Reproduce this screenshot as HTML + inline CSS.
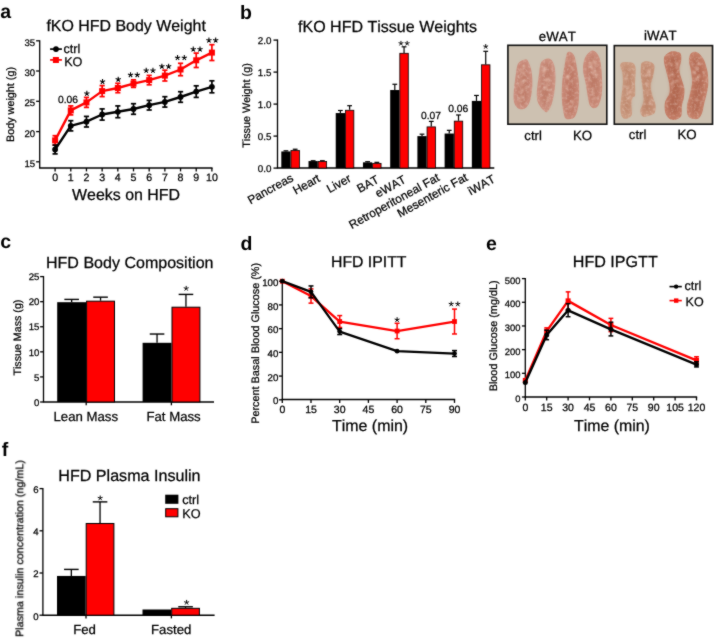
<!DOCTYPE html>
<html><head><meta charset="utf-8"><style>
html,body{margin:0;padding:0;background:#fff;}
svg{display:block;will-change:transform;}
text{font-family:"Liberation Sans", sans-serif;font-kerning:none;text-rendering:geometricPrecision;stroke:#000;stroke-width:0.25px;}
</style></head><body>
<svg width="714" height="638" viewBox="0 0 714 638">
<defs><filter id="soft" x="0" y="0" width="714" height="638" filterUnits="userSpaceOnUse" color-interpolation-filters="sRGB"><feConvolveMatrix order="3" kernelMatrix="1 2 1 2 20 2 1 2 1" edgeMode="duplicate"/></filter><filter id="blur" x="-20%" y="-20%" width="140%" height="140%"><feGaussianBlur stdDeviation="0.7"/></filter><filter id="blur2" x="-20%" y="-20%" width="140%" height="140%"><feGaussianBlur stdDeviation="2.0"/></filter><filter id="grain" x="0" y="0" width="1" height="1"><feTurbulence type="fractalNoise" baseFrequency="0.35" numOctaves="2" seed="3"/><feColorMatrix type="matrix" values="0 0 0 0 1  0 0 0 0 0.95  0 0 0 0 0.9  1.2 0 0 0 -0.55"/><feComponentTransfer><feFuncA type="linear" slope="1" intercept="0"/></feComponentTransfer></filter><filter id="blur3" x="-20%" y="-20%" width="140%" height="140%"><feGaussianBlur stdDeviation="0.9"/></filter></defs>
<g filter="url(#soft)">
<rect width="714" height="638" fill="#fff"/>
<text x="0.20" y="18.20" font-size="19.5" text-anchor="start" font-weight="bold" style="stroke-width:0" fill="#000">a</text>
<text x="46.40" y="31.40" font-size="15.95" text-anchor="start" fill="#000">fKO HFD Body Weight</text>
<line x1="39.70" y1="40.15" x2="39.70" y2="168.00" stroke="#000" stroke-width="1.3" stroke-linecap="butt"/>
<line x1="36.10" y1="40.80" x2="39.70" y2="40.80" stroke="#000" stroke-width="1.3" stroke-linecap="butt"/>
<text x="35.20" y="45.70" font-size="9.6" text-anchor="end" fill="#000">35</text>
<line x1="36.10" y1="71.00" x2="39.70" y2="71.00" stroke="#000" stroke-width="1.3" stroke-linecap="butt"/>
<text x="35.20" y="75.90" font-size="9.6" text-anchor="end" fill="#000">30</text>
<line x1="36.10" y1="101.30" x2="39.70" y2="101.30" stroke="#000" stroke-width="1.3" stroke-linecap="butt"/>
<text x="35.20" y="106.20" font-size="9.6" text-anchor="end" fill="#000">25</text>
<line x1="36.10" y1="131.60" x2="39.70" y2="131.60" stroke="#000" stroke-width="1.3" stroke-linecap="butt"/>
<text x="35.20" y="136.50" font-size="9.6" text-anchor="end" fill="#000">20</text>
<line x1="36.10" y1="161.80" x2="39.70" y2="161.80" stroke="#000" stroke-width="1.3" stroke-linecap="butt"/>
<text x="35.20" y="166.70" font-size="9.6" text-anchor="end" fill="#000">15</text>
<line x1="39.05" y1="168.00" x2="212.55" y2="168.00" stroke="#000" stroke-width="1.3" stroke-linecap="butt"/>
<line x1="55.10" y1="168.00" x2="55.10" y2="171.40" stroke="#000" stroke-width="1.3" stroke-linecap="butt"/>
<text x="55.10" y="181.40" font-size="10.6" text-anchor="middle" fill="#000">0</text>
<line x1="70.78" y1="168.00" x2="70.78" y2="171.40" stroke="#000" stroke-width="1.3" stroke-linecap="butt"/>
<text x="70.78" y="181.40" font-size="10.6" text-anchor="middle" fill="#000">1</text>
<line x1="86.46" y1="168.00" x2="86.46" y2="171.40" stroke="#000" stroke-width="1.3" stroke-linecap="butt"/>
<text x="86.46" y="181.40" font-size="10.6" text-anchor="middle" fill="#000">2</text>
<line x1="102.14" y1="168.00" x2="102.14" y2="171.40" stroke="#000" stroke-width="1.3" stroke-linecap="butt"/>
<text x="102.14" y="181.40" font-size="10.6" text-anchor="middle" fill="#000">3</text>
<line x1="117.82" y1="168.00" x2="117.82" y2="171.40" stroke="#000" stroke-width="1.3" stroke-linecap="butt"/>
<text x="117.82" y="181.40" font-size="10.6" text-anchor="middle" fill="#000">4</text>
<line x1="133.50" y1="168.00" x2="133.50" y2="171.40" stroke="#000" stroke-width="1.3" stroke-linecap="butt"/>
<text x="133.50" y="181.40" font-size="10.6" text-anchor="middle" fill="#000">5</text>
<line x1="149.18" y1="168.00" x2="149.18" y2="171.40" stroke="#000" stroke-width="1.3" stroke-linecap="butt"/>
<text x="149.18" y="181.40" font-size="10.6" text-anchor="middle" fill="#000">6</text>
<line x1="164.86" y1="168.00" x2="164.86" y2="171.40" stroke="#000" stroke-width="1.3" stroke-linecap="butt"/>
<text x="164.86" y="181.40" font-size="10.6" text-anchor="middle" fill="#000">7</text>
<line x1="180.54" y1="168.00" x2="180.54" y2="171.40" stroke="#000" stroke-width="1.3" stroke-linecap="butt"/>
<text x="180.54" y="181.40" font-size="10.6" text-anchor="middle" fill="#000">8</text>
<line x1="196.22" y1="168.00" x2="196.22" y2="171.40" stroke="#000" stroke-width="1.3" stroke-linecap="butt"/>
<text x="196.22" y="181.40" font-size="10.6" text-anchor="middle" fill="#000">9</text>
<line x1="211.90" y1="168.00" x2="211.90" y2="171.40" stroke="#000" stroke-width="1.3" stroke-linecap="butt"/>
<text x="211.90" y="181.40" font-size="10.6" text-anchor="middle" fill="#000">10</text>
<text x="72.00" y="199.60" font-size="15.95" text-anchor="start" fill="#000">Weeks on HFD</text>
<text x="14.30" y="142.00" font-size="10.8" text-anchor="start" fill="#000" transform="rotate(-90 14.3 142.0)">Body weight (g)</text>
<line x1="55.10" y1="135.70" x2="55.10" y2="145.10" stroke="#ff0000" stroke-width="1.7" stroke-linecap="butt"/>
<line x1="52.50" y1="135.70" x2="57.70" y2="135.70" stroke="#ff0000" stroke-width="1.7" stroke-linecap="butt"/>
<line x1="52.50" y1="145.10" x2="57.70" y2="145.10" stroke="#ff0000" stroke-width="1.7" stroke-linecap="butt"/>
<line x1="70.78" y1="105.90" x2="70.78" y2="114.90" stroke="#ff0000" stroke-width="1.7" stroke-linecap="butt"/>
<line x1="68.18" y1="105.90" x2="73.38" y2="105.90" stroke="#ff0000" stroke-width="1.7" stroke-linecap="butt"/>
<line x1="68.18" y1="114.90" x2="73.38" y2="114.90" stroke="#ff0000" stroke-width="1.7" stroke-linecap="butt"/>
<line x1="86.46" y1="97.40" x2="86.46" y2="107.40" stroke="#ff0000" stroke-width="1.7" stroke-linecap="butt"/>
<line x1="83.86" y1="97.40" x2="89.06" y2="97.40" stroke="#ff0000" stroke-width="1.7" stroke-linecap="butt"/>
<line x1="83.86" y1="107.40" x2="89.06" y2="107.40" stroke="#ff0000" stroke-width="1.7" stroke-linecap="butt"/>
<line x1="102.14" y1="85.60" x2="102.14" y2="96.60" stroke="#ff0000" stroke-width="1.7" stroke-linecap="butt"/>
<line x1="99.54" y1="85.60" x2="104.74" y2="85.60" stroke="#ff0000" stroke-width="1.7" stroke-linecap="butt"/>
<line x1="99.54" y1="96.60" x2="104.74" y2="96.60" stroke="#ff0000" stroke-width="1.7" stroke-linecap="butt"/>
<line x1="117.82" y1="83.30" x2="117.82" y2="92.70" stroke="#ff0000" stroke-width="1.7" stroke-linecap="butt"/>
<line x1="115.22" y1="83.30" x2="120.42" y2="83.30" stroke="#ff0000" stroke-width="1.7" stroke-linecap="butt"/>
<line x1="115.22" y1="92.70" x2="120.42" y2="92.70" stroke="#ff0000" stroke-width="1.7" stroke-linecap="butt"/>
<line x1="133.50" y1="79.80" x2="133.50" y2="87.40" stroke="#ff0000" stroke-width="1.7" stroke-linecap="butt"/>
<line x1="130.90" y1="79.80" x2="136.10" y2="79.80" stroke="#ff0000" stroke-width="1.7" stroke-linecap="butt"/>
<line x1="130.90" y1="87.40" x2="136.10" y2="87.40" stroke="#ff0000" stroke-width="1.7" stroke-linecap="butt"/>
<line x1="149.18" y1="75.40" x2="149.18" y2="84.80" stroke="#ff0000" stroke-width="1.7" stroke-linecap="butt"/>
<line x1="146.58" y1="75.40" x2="151.78" y2="75.40" stroke="#ff0000" stroke-width="1.7" stroke-linecap="butt"/>
<line x1="146.58" y1="84.80" x2="151.78" y2="84.80" stroke="#ff0000" stroke-width="1.7" stroke-linecap="butt"/>
<line x1="164.86" y1="70.20" x2="164.86" y2="81.00" stroke="#ff0000" stroke-width="1.7" stroke-linecap="butt"/>
<line x1="162.26" y1="70.20" x2="167.46" y2="70.20" stroke="#ff0000" stroke-width="1.7" stroke-linecap="butt"/>
<line x1="162.26" y1="81.00" x2="167.46" y2="81.00" stroke="#ff0000" stroke-width="1.7" stroke-linecap="butt"/>
<line x1="180.54" y1="63.30" x2="180.54" y2="75.70" stroke="#ff0000" stroke-width="1.7" stroke-linecap="butt"/>
<line x1="177.94" y1="63.30" x2="183.14" y2="63.30" stroke="#ff0000" stroke-width="1.7" stroke-linecap="butt"/>
<line x1="177.94" y1="75.70" x2="183.14" y2="75.70" stroke="#ff0000" stroke-width="1.7" stroke-linecap="butt"/>
<line x1="196.22" y1="53.10" x2="196.22" y2="67.50" stroke="#ff0000" stroke-width="1.7" stroke-linecap="butt"/>
<line x1="193.62" y1="53.10" x2="198.82" y2="53.10" stroke="#ff0000" stroke-width="1.7" stroke-linecap="butt"/>
<line x1="193.62" y1="67.50" x2="198.82" y2="67.50" stroke="#ff0000" stroke-width="1.7" stroke-linecap="butt"/>
<line x1="211.90" y1="44.70" x2="211.90" y2="60.50" stroke="#ff0000" stroke-width="1.7" stroke-linecap="butt"/>
<line x1="209.30" y1="44.70" x2="214.50" y2="44.70" stroke="#ff0000" stroke-width="1.7" stroke-linecap="butt"/>
<line x1="209.30" y1="60.50" x2="214.50" y2="60.50" stroke="#ff0000" stroke-width="1.7" stroke-linecap="butt"/>
<polyline points="55.10,140.40 70.78,110.40 86.46,102.40 102.14,91.10 117.82,88.00 133.50,83.60 149.18,80.10 164.86,75.60 180.54,69.50 196.22,60.30 211.90,52.60" fill="none" stroke="#ff0000" stroke-width="2.4" stroke-linejoin="round"/>
<rect x="52.10" y="137.40" width="6.00" height="6.00" fill="#ff0000"/>
<rect x="67.78" y="107.40" width="6.00" height="6.00" fill="#ff0000"/>
<rect x="83.46" y="99.40" width="6.00" height="6.00" fill="#ff0000"/>
<rect x="99.14" y="88.10" width="6.00" height="6.00" fill="#ff0000"/>
<rect x="114.82" y="85.00" width="6.00" height="6.00" fill="#ff0000"/>
<rect x="130.50" y="80.60" width="6.00" height="6.00" fill="#ff0000"/>
<rect x="146.18" y="77.10" width="6.00" height="6.00" fill="#ff0000"/>
<rect x="161.86" y="72.60" width="6.00" height="6.00" fill="#ff0000"/>
<rect x="177.54" y="66.50" width="6.00" height="6.00" fill="#ff0000"/>
<rect x="193.22" y="57.30" width="6.00" height="6.00" fill="#ff0000"/>
<rect x="208.90" y="49.60" width="6.00" height="6.00" fill="#ff0000"/>
<line x1="55.10" y1="145.10" x2="55.10" y2="153.90" stroke="#000" stroke-width="1.7" stroke-linecap="butt"/>
<line x1="52.50" y1="145.10" x2="57.70" y2="145.10" stroke="#000" stroke-width="1.7" stroke-linecap="butt"/>
<line x1="52.50" y1="153.90" x2="57.70" y2="153.90" stroke="#000" stroke-width="1.7" stroke-linecap="butt"/>
<line x1="70.78" y1="120.70" x2="70.78" y2="130.90" stroke="#000" stroke-width="1.7" stroke-linecap="butt"/>
<line x1="68.18" y1="120.70" x2="73.38" y2="120.70" stroke="#000" stroke-width="1.7" stroke-linecap="butt"/>
<line x1="68.18" y1="130.90" x2="73.38" y2="130.90" stroke="#000" stroke-width="1.7" stroke-linecap="butt"/>
<line x1="86.46" y1="116.40" x2="86.46" y2="127.00" stroke="#000" stroke-width="1.7" stroke-linecap="butt"/>
<line x1="83.86" y1="116.40" x2="89.06" y2="116.40" stroke="#000" stroke-width="1.7" stroke-linecap="butt"/>
<line x1="83.86" y1="127.00" x2="89.06" y2="127.00" stroke="#000" stroke-width="1.7" stroke-linecap="butt"/>
<line x1="102.14" y1="108.90" x2="102.14" y2="120.10" stroke="#000" stroke-width="1.7" stroke-linecap="butt"/>
<line x1="99.54" y1="108.90" x2="104.74" y2="108.90" stroke="#000" stroke-width="1.7" stroke-linecap="butt"/>
<line x1="99.54" y1="120.10" x2="104.74" y2="120.10" stroke="#000" stroke-width="1.7" stroke-linecap="butt"/>
<line x1="117.82" y1="105.90" x2="117.82" y2="117.70" stroke="#000" stroke-width="1.7" stroke-linecap="butt"/>
<line x1="115.22" y1="105.90" x2="120.42" y2="105.90" stroke="#000" stroke-width="1.7" stroke-linecap="butt"/>
<line x1="115.22" y1="117.70" x2="120.42" y2="117.70" stroke="#000" stroke-width="1.7" stroke-linecap="butt"/>
<line x1="133.50" y1="103.70" x2="133.50" y2="114.30" stroke="#000" stroke-width="1.7" stroke-linecap="butt"/>
<line x1="130.90" y1="103.70" x2="136.10" y2="103.70" stroke="#000" stroke-width="1.7" stroke-linecap="butt"/>
<line x1="130.90" y1="114.30" x2="136.10" y2="114.30" stroke="#000" stroke-width="1.7" stroke-linecap="butt"/>
<line x1="149.18" y1="100.40" x2="149.18" y2="110.00" stroke="#000" stroke-width="1.7" stroke-linecap="butt"/>
<line x1="146.58" y1="100.40" x2="151.78" y2="100.40" stroke="#000" stroke-width="1.7" stroke-linecap="butt"/>
<line x1="146.58" y1="110.00" x2="151.78" y2="110.00" stroke="#000" stroke-width="1.7" stroke-linecap="butt"/>
<line x1="164.86" y1="96.70" x2="164.86" y2="107.10" stroke="#000" stroke-width="1.7" stroke-linecap="butt"/>
<line x1="162.26" y1="96.70" x2="167.46" y2="96.70" stroke="#000" stroke-width="1.7" stroke-linecap="butt"/>
<line x1="162.26" y1="107.10" x2="167.46" y2="107.10" stroke="#000" stroke-width="1.7" stroke-linecap="butt"/>
<line x1="180.54" y1="91.70" x2="180.54" y2="102.30" stroke="#000" stroke-width="1.7" stroke-linecap="butt"/>
<line x1="177.94" y1="91.70" x2="183.14" y2="91.70" stroke="#000" stroke-width="1.7" stroke-linecap="butt"/>
<line x1="177.94" y1="102.30" x2="183.14" y2="102.30" stroke="#000" stroke-width="1.7" stroke-linecap="butt"/>
<line x1="196.22" y1="85.80" x2="196.22" y2="97.40" stroke="#000" stroke-width="1.7" stroke-linecap="butt"/>
<line x1="193.62" y1="85.80" x2="198.82" y2="85.80" stroke="#000" stroke-width="1.7" stroke-linecap="butt"/>
<line x1="193.62" y1="97.40" x2="198.82" y2="97.40" stroke="#000" stroke-width="1.7" stroke-linecap="butt"/>
<line x1="211.90" y1="80.80" x2="211.90" y2="92.80" stroke="#000" stroke-width="1.7" stroke-linecap="butt"/>
<line x1="209.30" y1="80.80" x2="214.50" y2="80.80" stroke="#000" stroke-width="1.7" stroke-linecap="butt"/>
<line x1="209.30" y1="92.80" x2="214.50" y2="92.80" stroke="#000" stroke-width="1.7" stroke-linecap="butt"/>
<polyline points="55.10,149.50 70.78,125.80 86.46,121.70 102.14,114.50 117.82,111.80 133.50,109.00 149.18,105.20 164.86,101.90 180.54,97.00 196.22,91.60 211.90,86.80" fill="none" stroke="#000" stroke-width="2.4" stroke-linejoin="round"/>
<circle cx="55.10" cy="149.50" r="2.9" fill="#000"/>
<circle cx="70.78" cy="125.80" r="2.9" fill="#000"/>
<circle cx="86.46" cy="121.70" r="2.9" fill="#000"/>
<circle cx="102.14" cy="114.50" r="2.9" fill="#000"/>
<circle cx="117.82" cy="111.80" r="2.9" fill="#000"/>
<circle cx="133.50" cy="109.00" r="2.9" fill="#000"/>
<circle cx="149.18" cy="105.20" r="2.9" fill="#000"/>
<circle cx="164.86" cy="101.90" r="2.9" fill="#000"/>
<circle cx="180.54" cy="97.00" r="2.9" fill="#000"/>
<circle cx="196.22" cy="91.60" r="2.9" fill="#000"/>
<circle cx="211.90" cy="86.80" r="2.9" fill="#000"/>
<path d="M86.86,93.50L86.86,90.75M86.86,93.50L89.48,92.65M86.86,93.50L88.48,95.72M86.86,93.50L85.24,95.72M86.86,93.50L84.24,92.65" stroke="#000" stroke-width="1.05" stroke-linecap="butt" fill="none"/>
<path d="M102.54,81.70L102.54,78.95M102.54,81.70L105.16,80.85M102.54,81.70L104.16,83.92M102.54,81.70L100.92,83.92M102.54,81.70L99.92,80.85" stroke="#000" stroke-width="1.05" stroke-linecap="butt" fill="none"/>
<path d="M118.22,79.40L118.22,76.65M118.22,79.40L120.84,78.55M118.22,79.40L119.84,81.62M118.22,79.40L116.60,81.62M118.22,79.40L115.60,78.55" stroke="#000" stroke-width="1.05" stroke-linecap="butt" fill="none"/>
<path d="M130.53,74.90L130.53,72.15M130.53,74.90L133.14,74.05M130.53,74.90L132.14,77.12M130.53,74.90L128.91,77.12M130.53,74.90L127.91,74.05" stroke="#000" stroke-width="1.05" stroke-linecap="butt" fill="none"/>
<path d="M137.28,74.90L137.28,72.15M137.28,74.90L139.89,74.05M137.28,74.90L138.89,77.12M137.28,74.90L135.66,77.12M137.28,74.90L134.66,74.05" stroke="#000" stroke-width="1.05" stroke-linecap="butt" fill="none"/>
<path d="M146.21,70.50L146.21,67.75M146.21,70.50L148.82,69.65M146.21,70.50L147.82,72.72M146.21,70.50L144.59,72.72M146.21,70.50L143.59,69.65" stroke="#000" stroke-width="1.05" stroke-linecap="butt" fill="none"/>
<path d="M152.96,70.50L152.96,67.75M152.96,70.50L155.57,69.65M152.96,70.50L154.57,72.72M152.96,70.50L151.34,72.72M152.96,70.50L150.34,69.65" stroke="#000" stroke-width="1.05" stroke-linecap="butt" fill="none"/>
<path d="M161.88,66.40L161.88,63.65M161.88,66.40L164.50,65.55M161.88,66.40L163.50,68.62M161.88,66.40L160.27,68.62M161.88,66.40L159.27,65.55" stroke="#000" stroke-width="1.05" stroke-linecap="butt" fill="none"/>
<path d="M168.63,66.40L168.63,63.65M168.63,66.40L171.25,65.55M168.63,66.40L170.25,68.62M168.63,66.40L167.02,68.62M168.63,66.40L166.02,65.55" stroke="#000" stroke-width="1.05" stroke-linecap="butt" fill="none"/>
<path d="M177.56,57.80L177.56,55.05M177.56,57.80L180.18,56.95M177.56,57.80L179.18,60.02M177.56,57.80L175.95,60.02M177.56,57.80L174.95,56.95" stroke="#000" stroke-width="1.05" stroke-linecap="butt" fill="none"/>
<path d="M184.31,57.80L184.31,55.05M184.31,57.80L186.93,56.95M184.31,57.80L185.93,60.02M184.31,57.80L182.70,60.02M184.31,57.80L181.70,56.95" stroke="#000" stroke-width="1.05" stroke-linecap="butt" fill="none"/>
<path d="M193.25,49.30L193.25,46.55M193.25,49.30L195.86,48.45M193.25,49.30L194.86,51.52M193.25,49.30L191.63,51.52M193.25,49.30L190.63,48.45" stroke="#000" stroke-width="1.05" stroke-linecap="butt" fill="none"/>
<path d="M200.00,49.30L200.00,46.55M200.00,49.30L202.61,48.45M200.00,49.30L201.61,51.52M200.00,49.30L198.38,51.52M200.00,49.30L197.38,48.45" stroke="#000" stroke-width="1.05" stroke-linecap="butt" fill="none"/>
<path d="M208.93,40.30L208.93,37.55M208.93,40.30L211.54,39.45M208.93,40.30L210.54,42.52M208.93,40.30L207.31,42.52M208.93,40.30L206.31,39.45" stroke="#000" stroke-width="1.05" stroke-linecap="butt" fill="none"/>
<path d="M215.68,40.30L215.68,37.55M215.68,40.30L218.29,39.45M215.68,40.30L217.29,42.52M215.68,40.30L214.06,42.52M215.68,40.30L213.06,39.45" stroke="#000" stroke-width="1.05" stroke-linecap="butt" fill="none"/>
<text x="68.00" y="102.90" font-size="10.3" text-anchor="middle" fill="#000">0.06</text>
<line x1="50.10" y1="49.10" x2="61.90" y2="49.10" stroke="#000" stroke-width="1.7" stroke-linecap="butt"/>
<circle cx="56.00" cy="49.10" r="2.9" fill="#000"/>
<text x="63.40" y="52.60" font-size="12.6" text-anchor="start" fill="#000">ctrl</text>
<line x1="50.10" y1="59.90" x2="61.90" y2="59.90" stroke="#ff0000" stroke-width="1.7" stroke-linecap="butt"/>
<rect x="52.90" y="57.00" width="6.00" height="6.00" fill="#ff0000"/>
<text x="64.20" y="65.80" font-size="12.6" text-anchor="start" fill="#000">KO</text>
<text x="240.00" y="18.90" font-size="19.5" text-anchor="start" font-weight="bold" style="stroke-width:0" fill="#000">b</text>
<text x="298.00" y="31.50" font-size="16.05" text-anchor="start" fill="#000">fKO HFD Tissue Weights</text>
<line x1="277.50" y1="39.45" x2="277.50" y2="168.10" stroke="#000" stroke-width="1.3" stroke-linecap="butt"/>
<line x1="273.50" y1="40.10" x2="277.50" y2="40.10" stroke="#000" stroke-width="1.3" stroke-linecap="butt"/>
<text x="271.40" y="43.50" font-size="9.8" text-anchor="end" fill="#000">2.0</text>
<line x1="273.50" y1="72.10" x2="277.50" y2="72.10" stroke="#000" stroke-width="1.3" stroke-linecap="butt"/>
<text x="271.40" y="75.50" font-size="9.8" text-anchor="end" fill="#000">1.5</text>
<line x1="273.50" y1="104.10" x2="277.50" y2="104.10" stroke="#000" stroke-width="1.3" stroke-linecap="butt"/>
<text x="271.40" y="107.50" font-size="9.8" text-anchor="end" fill="#000">1.0</text>
<line x1="273.50" y1="136.10" x2="277.50" y2="136.10" stroke="#000" stroke-width="1.3" stroke-linecap="butt"/>
<text x="271.40" y="139.50" font-size="9.8" text-anchor="end" fill="#000">0.5</text>
<line x1="273.50" y1="168.10" x2="277.50" y2="168.10" stroke="#000" stroke-width="1.3" stroke-linecap="butt"/>
<text x="271.40" y="171.50" font-size="9.8" text-anchor="end" fill="#000">0.0</text>
<line x1="276.85" y1="168.10" x2="494.30" y2="168.10" stroke="#000" stroke-width="1.5" stroke-linecap="butt"/>
<text x="249.90" y="147.80" font-size="10.8" text-anchor="start" fill="#000" transform="rotate(-90 249.9 147.8)">Tissue Weight (g)</text>
<line x1="285.93" y1="151.46" x2="285.93" y2="150.82" stroke="#000" stroke-width="1.2" stroke-linecap="butt"/>
<line x1="283.53" y1="150.82" x2="288.32" y2="150.82" stroke="#000" stroke-width="1.2" stroke-linecap="butt"/>
<line x1="295.18" y1="150.18" x2="295.18" y2="149.22" stroke="#000" stroke-width="1.2" stroke-linecap="butt"/>
<line x1="292.78" y1="149.22" x2="297.57" y2="149.22" stroke="#000" stroke-width="1.2" stroke-linecap="butt"/>
<rect x="281.30" y="151.46" width="9.25" height="16.64" fill="#000"/>
<rect x="290.95" y="150.58" width="8.45" height="17.52" fill="#ff0000" stroke="#000" stroke-width="0.8"/>
<text x="294.20" y="180.30" font-size="11.85" text-anchor="end" fill="#000" transform="rotate(-29 294.2 180.3)">Pancreas</text>
<line x1="313.14" y1="161.06" x2="313.14" y2="160.74" stroke="#000" stroke-width="1.2" stroke-linecap="butt"/>
<line x1="310.75" y1="160.74" x2="315.54" y2="160.74" stroke="#000" stroke-width="1.2" stroke-linecap="butt"/>
<line x1="322.39" y1="161.06" x2="322.39" y2="160.74" stroke="#000" stroke-width="1.2" stroke-linecap="butt"/>
<line x1="320.00" y1="160.74" x2="324.79" y2="160.74" stroke="#000" stroke-width="1.2" stroke-linecap="butt"/>
<rect x="308.52" y="161.06" width="9.25" height="7.04" fill="#000"/>
<rect x="318.17" y="161.46" width="8.45" height="6.64" fill="#ff0000" stroke="#000" stroke-width="0.8"/>
<text x="321.00" y="180.80" font-size="11.85" text-anchor="end" fill="#000" transform="rotate(-29 321.0 180.8)">Heart</text>
<line x1="340.37" y1="113.06" x2="340.37" y2="110.50" stroke="#000" stroke-width="1.2" stroke-linecap="butt"/>
<line x1="337.97" y1="110.50" x2="342.76" y2="110.50" stroke="#000" stroke-width="1.2" stroke-linecap="butt"/>
<line x1="349.62" y1="109.86" x2="349.62" y2="105.70" stroke="#000" stroke-width="1.2" stroke-linecap="butt"/>
<line x1="347.22" y1="105.70" x2="352.01" y2="105.70" stroke="#000" stroke-width="1.2" stroke-linecap="butt"/>
<rect x="335.74" y="113.06" width="9.25" height="55.04" fill="#000"/>
<rect x="345.39" y="110.26" width="8.45" height="57.84" fill="#ff0000" stroke="#000" stroke-width="0.8"/>
<text x="352.00" y="180.80" font-size="11.85" text-anchor="end" fill="#000" transform="rotate(-29 352.0 180.8)">Liver</text>
<line x1="367.59" y1="162.34" x2="367.59" y2="161.70" stroke="#000" stroke-width="1.2" stroke-linecap="butt"/>
<line x1="365.19" y1="161.70" x2="369.99" y2="161.70" stroke="#000" stroke-width="1.2" stroke-linecap="butt"/>
<line x1="376.84" y1="162.98" x2="376.84" y2="162.34" stroke="#000" stroke-width="1.2" stroke-linecap="butt"/>
<line x1="374.44" y1="162.34" x2="379.24" y2="162.34" stroke="#000" stroke-width="1.2" stroke-linecap="butt"/>
<rect x="362.96" y="162.34" width="9.25" height="5.76" fill="#000"/>
<rect x="372.61" y="163.38" width="8.45" height="4.72" fill="#ff0000" stroke="#000" stroke-width="0.8"/>
<text x="379.90" y="181.90" font-size="11.85" text-anchor="end" fill="#000" transform="rotate(-29 379.9 181.9)">BAT</text>
<line x1="394.81" y1="90.02" x2="394.81" y2="84.26" stroke="#000" stroke-width="1.2" stroke-linecap="butt"/>
<line x1="392.41" y1="84.26" x2="397.20" y2="84.26" stroke="#000" stroke-width="1.2" stroke-linecap="butt"/>
<line x1="404.06" y1="52.90" x2="404.06" y2="46.82" stroke="#000" stroke-width="1.2" stroke-linecap="butt"/>
<line x1="401.66" y1="46.82" x2="406.45" y2="46.82" stroke="#000" stroke-width="1.2" stroke-linecap="butt"/>
<rect x="390.18" y="90.02" width="9.25" height="78.08" fill="#000"/>
<rect x="399.83" y="53.30" width="8.45" height="114.80" fill="#ff0000" stroke="#000" stroke-width="0.8"/>
<text x="406.90" y="181.90" font-size="11.85" text-anchor="end" fill="#000" transform="rotate(-29 406.9 181.9)">eWAT</text>
<line x1="422.02" y1="136.10" x2="422.02" y2="134.18" stroke="#000" stroke-width="1.2" stroke-linecap="butt"/>
<line x1="419.62" y1="134.18" x2="424.42" y2="134.18" stroke="#000" stroke-width="1.2" stroke-linecap="butt"/>
<line x1="431.27" y1="126.50" x2="431.27" y2="121.38" stroke="#000" stroke-width="1.2" stroke-linecap="butt"/>
<line x1="428.88" y1="121.38" x2="433.67" y2="121.38" stroke="#000" stroke-width="1.2" stroke-linecap="butt"/>
<rect x="417.40" y="136.10" width="9.25" height="32.00" fill="#000"/>
<rect x="427.05" y="126.90" width="8.45" height="41.20" fill="#ff0000" stroke="#000" stroke-width="0.8"/>
<text x="440.40" y="180.00" font-size="11.85" text-anchor="end" fill="#000" transform="rotate(-29 440.4 180.0)">Retroperitoneal Fat</text>
<line x1="449.25" y1="133.54" x2="449.25" y2="130.34" stroke="#000" stroke-width="1.2" stroke-linecap="butt"/>
<line x1="446.85" y1="130.34" x2="451.64" y2="130.34" stroke="#000" stroke-width="1.2" stroke-linecap="butt"/>
<line x1="458.50" y1="120.74" x2="458.50" y2="114.98" stroke="#000" stroke-width="1.2" stroke-linecap="butt"/>
<line x1="456.10" y1="114.98" x2="460.89" y2="114.98" stroke="#000" stroke-width="1.2" stroke-linecap="butt"/>
<rect x="444.62" y="133.54" width="9.25" height="34.56" fill="#000"/>
<rect x="454.27" y="121.14" width="8.45" height="46.96" fill="#ff0000" stroke="#000" stroke-width="0.8"/>
<text x="468.60" y="179.80" font-size="11.85" text-anchor="end" fill="#000" transform="rotate(-29 468.6 179.8)">Mesenteric Fat</text>
<line x1="476.47" y1="100.90" x2="476.47" y2="95.46" stroke="#000" stroke-width="1.2" stroke-linecap="butt"/>
<line x1="474.07" y1="95.46" x2="478.87" y2="95.46" stroke="#000" stroke-width="1.2" stroke-linecap="butt"/>
<line x1="485.72" y1="64.42" x2="485.72" y2="51.30" stroke="#000" stroke-width="1.2" stroke-linecap="butt"/>
<line x1="483.32" y1="51.30" x2="488.12" y2="51.30" stroke="#000" stroke-width="1.2" stroke-linecap="butt"/>
<rect x="471.84" y="100.90" width="9.25" height="67.20" fill="#000"/>
<rect x="481.49" y="64.82" width="8.45" height="103.28" fill="#ff0000" stroke="#000" stroke-width="0.8"/>
<text x="496.00" y="181.40" font-size="11.85" text-anchor="end" fill="#000" transform="rotate(-29 496.0 181.4)">iWAT</text>
<path d="M400.95,43.40L400.95,40.90M400.95,43.40L403.33,42.63M400.95,43.40L402.42,45.42M400.95,43.40L399.49,45.42M400.95,43.40L398.58,42.63" stroke="#000" stroke-width="0.95" stroke-linecap="butt" fill="none"/>
<path d="M407.15,43.40L407.15,40.90M407.15,43.40L409.53,42.63M407.15,43.40L408.62,45.42M407.15,43.40L405.69,45.42M407.15,43.40L404.78,42.63" stroke="#000" stroke-width="0.95" stroke-linecap="butt" fill="none"/>
<path d="M485.72,46.60L485.72,44.10M485.72,46.60L488.09,45.83M485.72,46.60L487.18,48.62M485.72,46.60L484.25,48.62M485.72,46.60L483.34,45.83" stroke="#000" stroke-width="0.95" stroke-linecap="butt" fill="none"/>
<text x="431.00" y="118.50" font-size="10.3" text-anchor="middle" fill="#000">0.07</text>
<text x="458.20" y="111.60" font-size="10.3" text-anchor="middle" fill="#000">0.06</text>
<rect x="507.90" y="45.30" width="98.90" height="78.90" fill="#cdc1b1"/>
<g filter="url(#blur)">
<path d="M525.3,59.4C527.0,59.2 527.4,59.9 528.5,62.0C529.6,64.1 531.1,68.1 531.7,72.2C532.3,76.3 532.6,81.5 532.3,86.4C532.0,91.3 530.9,98.2 529.7,101.8C528.5,105.4 527.1,107.0 525.3,108.2C523.5,109.4 520.6,109.7 518.8,108.8C517.0,107.9 515.1,105.7 514.3,103.0C513.4,100.3 513.5,97.3 513.7,92.8C513.9,88.3 514.9,81.0 515.6,76.1C516.4,71.2 516.6,66.1 518.2,63.3C519.8,60.5 523.6,59.6 525.3,59.4Z" fill="#cc9080"/>
<path d="M544.5,59.4C546.0,58.6 548.1,58.1 549.6,58.8C551.1,59.4 552.5,60.8 553.5,63.3C554.5,65.8 555.2,69.2 555.4,73.5C555.6,77.8 555.4,83.8 554.8,88.9C554.2,94.0 552.9,100.5 551.6,104.3C550.3,108.1 548.5,111.0 547.1,112.0C545.7,113.0 544.7,111.6 543.2,110.1C541.7,108.6 539.2,105.9 538.1,103.0C537.0,100.1 536.7,97.3 536.8,92.8C536.9,88.3 538.1,81.0 538.7,76.1C539.4,71.2 539.7,66.1 540.7,63.3C541.7,60.5 543.0,60.1 544.5,59.4Z" fill="#cd9382"/>
<path d="M569.5,51.7C570.4,51.6 571.1,52.1 572.0,53.0C572.9,53.9 573.7,54.0 574.6,56.8C575.5,59.6 576.5,64.8 577.2,69.7C578.0,74.6 578.9,80.6 579.1,86.4C579.3,92.2 579.1,99.4 578.5,104.3C577.9,109.2 576.7,113.4 575.3,115.9C573.9,118.4 571.7,118.7 570.1,119.1C568.5,119.5 566.7,119.5 565.6,118.5C564.5,117.5 564.3,116.7 563.7,113.3C563.1,109.9 562.0,103.5 561.8,97.9C561.6,92.4 561.9,85.8 562.4,80.0C562.9,74.2 564.2,67.7 565.0,63.3C565.8,58.9 566.1,55.5 566.9,53.6C567.6,51.7 568.6,51.8 569.5,51.7Z" fill="#ca8c7a"/>
<path d="M590.7,51.1C592.3,49.9 593.2,50.4 594.5,51.1C595.8,51.9 597.3,53.4 598.4,55.6C599.5,57.8 600.3,60.0 600.9,64.5C601.5,69.0 602.1,77.4 602.2,82.5C602.3,87.6 602.2,91.5 601.6,95.3C601.0,99.1 599.7,103.4 598.4,105.6C597.1,107.8 595.3,108.2 593.9,108.2C592.5,108.2 591.0,107.3 590.0,105.6C589.0,103.9 588.9,101.8 588.1,97.9C587.4,94.1 586.4,87.2 585.5,82.5C584.6,77.8 583.1,73.8 583.0,69.7C582.9,65.6 583.6,61.2 584.9,58.1C586.2,55.0 589.1,52.3 590.7,51.1Z" fill="#cc8f7d"/>
</g>
<g filter="url(#blur2)">
<path d="M524.4,63.2C525.4,63.0 525.7,63.6 526.3,65.4C527.0,67.2 527.9,70.6 528.2,74.1C528.6,77.6 528.8,82.0 528.6,86.2C528.4,90.4 527.7,96.2 527.0,99.3C526.3,102.4 525.5,103.7 524.4,104.7C523.3,105.7 521.6,106.0 520.5,105.2C519.4,104.5 518.3,102.6 517.8,100.3C517.3,98.0 517.3,95.4 517.4,91.6C517.6,87.8 518.1,81.6 518.6,77.4C519.0,73.2 519.2,68.9 520.1,66.5C521.1,64.2 523.4,63.4 524.4,63.2Z" fill="#bb7562" opacity="0.8"/>
<path d="M545.2,63.1C546.1,62.4 547.3,62.0 548.2,62.5C549.1,63.1 550.0,64.3 550.6,66.4C551.1,68.5 551.6,71.4 551.7,75.0C551.8,78.7 551.7,83.8 551.3,88.1C551.0,92.5 550.2,98.0 549.4,101.2C548.7,104.5 547.6,106.9 546.7,107.8C545.9,108.6 545.3,107.4 544.4,106.2C543.5,104.9 542.0,102.6 541.3,100.1C540.7,97.7 540.5,95.3 540.5,91.4C540.6,87.6 541.3,81.4 541.7,77.3C542.1,73.1 542.3,68.7 542.9,66.4C543.5,64.0 544.3,63.7 545.2,63.1Z" fill="#bc7864" opacity="0.8"/>
<path d="M569.7,56.6C570.3,56.5 570.7,57.0 571.2,57.7C571.8,58.5 572.3,58.6 572.8,61.0C573.3,63.3 573.9,67.7 574.4,71.9C574.8,76.1 575.4,81.2 575.5,86.1C575.6,91.0 575.5,97.2 575.1,101.3C574.8,105.5 574.1,109.1 573.2,111.2C572.4,113.3 571.1,113.5 570.1,113.9C569.1,114.3 568.0,114.2 567.4,113.4C566.8,112.6 566.6,111.9 566.3,109.0C565.9,106.1 565.3,100.6 565.1,95.9C565.0,91.2 565.2,85.6 565.5,80.7C565.8,75.8 566.6,70.2 567.0,66.5C567.5,62.7 567.7,59.9 568.2,58.2C568.6,56.6 569.2,56.7 569.7,56.6Z" fill="#b9715d" opacity="0.8"/>
<path d="M591.7,55.3C592.7,54.3 593.2,54.7 594.0,55.3C594.8,55.9 595.7,57.2 596.3,59.1C597.0,61.0 597.5,62.9 597.8,66.7C598.2,70.5 598.5,77.6 598.6,82.0C598.7,86.3 598.6,89.6 598.3,92.9C597.9,96.1 597.1,99.8 596.3,101.6C595.6,103.4 594.5,103.8 593.6,103.8C592.8,103.8 591.9,103.1 591.3,101.6C590.7,100.2 590.6,98.3 590.2,95.1C589.7,91.8 589.1,86.0 588.6,82.0C588.1,78.0 587.2,74.6 587.1,71.1C587.0,67.6 587.5,63.9 588.2,61.2C589.0,58.6 590.8,56.3 591.7,55.3Z" fill="#ba7460" opacity="0.8"/>
</g>
<g filter="url(#blur3)" fill="#ecc8b8">
<ellipse cx="520.6" cy="77.0" rx="1.3" ry="0.7" opacity="0.8"/>
<ellipse cx="522.1" cy="84.7" rx="0.8" ry="1.0" opacity="0.8"/>
<ellipse cx="522.6" cy="66.7" rx="0.9" ry="0.8" opacity="0.8"/>
<ellipse cx="525.3" cy="80.6" rx="0.9" ry="0.8" opacity="0.8"/>
<ellipse cx="526.2" cy="88.0" rx="1.3" ry="0.9" opacity="0.8"/>
<ellipse cx="519.9" cy="100.5" rx="1.5" ry="0.9" opacity="0.8"/>
<ellipse cx="520.4" cy="70.5" rx="1.0" ry="1.2" opacity="0.8"/>
<ellipse cx="523.6" cy="71.8" rx="1.3" ry="0.9" opacity="0.8"/>
<ellipse cx="520.0" cy="85.1" rx="0.8" ry="0.8" opacity="0.8"/>
<ellipse cx="522.5" cy="89.9" rx="1.1" ry="1.1" opacity="0.8"/>
<ellipse cx="521.6" cy="81.7" rx="1.4" ry="1.1" opacity="0.8"/>
<ellipse cx="523.6" cy="74.1" rx="1.2" ry="1.2" opacity="0.8"/>
<ellipse cx="521.6" cy="91.6" rx="1.6" ry="0.8" opacity="0.8"/>
<ellipse cx="524.8" cy="80.4" rx="0.9" ry="1.0" opacity="0.8"/>
<ellipse cx="524.2" cy="66.7" rx="1.4" ry="1.0" opacity="0.8"/>
<ellipse cx="521.7" cy="96.9" rx="1.4" ry="1.1" opacity="0.8"/>
<ellipse cx="545.9" cy="87.7" rx="1.5" ry="1.3" opacity="0.8"/>
<ellipse cx="547.3" cy="83.6" rx="0.8" ry="1.1" opacity="0.8"/>
<ellipse cx="549.6" cy="90.3" rx="1.5" ry="0.9" opacity="0.8"/>
<ellipse cx="547.3" cy="80.2" rx="0.8" ry="1.0" opacity="0.8"/>
<ellipse cx="543.5" cy="71.7" rx="0.8" ry="1.2" opacity="0.8"/>
<ellipse cx="544.4" cy="70.2" rx="1.1" ry="1.2" opacity="0.8"/>
<ellipse cx="545.8" cy="68.3" rx="1.2" ry="1.2" opacity="0.8"/>
<ellipse cx="548.7" cy="97.0" rx="1.0" ry="0.9" opacity="0.8"/>
<ellipse cx="548.9" cy="79.1" rx="1.6" ry="0.8" opacity="0.8"/>
<ellipse cx="544.3" cy="72.0" rx="1.0" ry="1.0" opacity="0.8"/>
<ellipse cx="544.5" cy="88.1" rx="0.8" ry="1.0" opacity="0.8"/>
<ellipse cx="546.6" cy="79.5" rx="1.6" ry="1.1" opacity="0.8"/>
<ellipse cx="547.0" cy="85.2" rx="1.3" ry="0.7" opacity="0.8"/>
<ellipse cx="548.1" cy="100.1" rx="1.5" ry="1.2" opacity="0.8"/>
<ellipse cx="545.5" cy="80.4" rx="0.9" ry="1.1" opacity="0.8"/>
<ellipse cx="543.1" cy="67.6" rx="1.0" ry="0.8" opacity="0.8"/>
<ellipse cx="567.0" cy="76.5" rx="0.8" ry="0.8" opacity="0.8"/>
<ellipse cx="569.2" cy="64.8" rx="0.8" ry="1.2" opacity="0.8"/>
<ellipse cx="567.7" cy="90.0" rx="1.0" ry="0.9" opacity="0.8"/>
<ellipse cx="567.5" cy="77.7" rx="1.5" ry="1.3" opacity="0.8"/>
<ellipse cx="570.0" cy="82.7" rx="0.9" ry="0.8" opacity="0.8"/>
<ellipse cx="568.5" cy="76.6" rx="1.5" ry="0.8" opacity="0.8"/>
<ellipse cx="573.3" cy="60.9" rx="1.2" ry="0.8" opacity="0.8"/>
<ellipse cx="566.8" cy="86.5" rx="1.2" ry="1.3" opacity="0.8"/>
<ellipse cx="571.5" cy="102.3" rx="1.0" ry="0.9" opacity="0.8"/>
<ellipse cx="572.0" cy="68.0" rx="1.2" ry="1.2" opacity="0.8"/>
<ellipse cx="568.2" cy="76.0" rx="1.4" ry="1.3" opacity="0.8"/>
<ellipse cx="572.3" cy="101.7" rx="1.5" ry="1.1" opacity="0.8"/>
<ellipse cx="570.2" cy="70.9" rx="1.1" ry="0.7" opacity="0.8"/>
<ellipse cx="568.6" cy="61.2" rx="1.0" ry="1.1" opacity="0.8"/>
<ellipse cx="569.8" cy="106.9" rx="1.5" ry="1.3" opacity="0.8"/>
<ellipse cx="569.2" cy="106.8" rx="1.0" ry="0.8" opacity="0.8"/>
<ellipse cx="591.2" cy="66.2" rx="1.3" ry="1.2" opacity="0.8"/>
<ellipse cx="593.1" cy="93.0" rx="1.3" ry="1.2" opacity="0.8"/>
<ellipse cx="594.4" cy="61.5" rx="1.5" ry="1.2" opacity="0.8"/>
<ellipse cx="593.1" cy="89.2" rx="0.9" ry="1.2" opacity="0.8"/>
<ellipse cx="595.3" cy="71.8" rx="1.6" ry="0.9" opacity="0.8"/>
<ellipse cx="596.4" cy="74.7" rx="1.4" ry="0.8" opacity="0.8"/>
<ellipse cx="590.8" cy="63.2" rx="1.5" ry="1.2" opacity="0.8"/>
<ellipse cx="595.5" cy="64.0" rx="1.6" ry="1.1" opacity="0.8"/>
<ellipse cx="593.6" cy="72.6" rx="0.9" ry="0.7" opacity="0.8"/>
<ellipse cx="594.3" cy="98.4" rx="1.2" ry="1.3" opacity="0.8"/>
<ellipse cx="595.8" cy="76.0" rx="1.5" ry="0.8" opacity="0.8"/>
<ellipse cx="591.8" cy="68.4" rx="1.0" ry="1.1" opacity="0.8"/>
<ellipse cx="592.7" cy="68.8" rx="0.9" ry="1.2" opacity="0.8"/>
<ellipse cx="592.9" cy="72.7" rx="1.3" ry="1.2" opacity="0.8"/>
<ellipse cx="596.2" cy="75.5" rx="1.2" ry="1.0" opacity="0.8"/>
<ellipse cx="589.9" cy="79.8" rx="1.2" ry="0.8" opacity="0.8"/>
</g>
<clipPath id="cpe1"><path d="M525.3,59.4C527.0,59.2 527.4,59.9 528.5,62.0C529.6,64.1 531.1,68.1 531.7,72.2C532.3,76.3 532.6,81.5 532.3,86.4C532.0,91.3 530.9,98.2 529.7,101.8C528.5,105.4 527.1,107.0 525.3,108.2C523.5,109.4 520.6,109.7 518.8,108.8C517.0,107.9 515.1,105.7 514.3,103.0C513.4,100.3 513.5,97.3 513.7,92.8C513.9,88.3 514.9,81.0 515.6,76.1C516.4,71.2 516.6,66.1 518.2,63.3C519.8,60.5 523.6,59.6 525.3,59.4Z"/><path d="M544.5,59.4C546.0,58.6 548.1,58.1 549.6,58.8C551.1,59.4 552.5,60.8 553.5,63.3C554.5,65.8 555.2,69.2 555.4,73.5C555.6,77.8 555.4,83.8 554.8,88.9C554.2,94.0 552.9,100.5 551.6,104.3C550.3,108.1 548.5,111.0 547.1,112.0C545.7,113.0 544.7,111.6 543.2,110.1C541.7,108.6 539.2,105.9 538.1,103.0C537.0,100.1 536.7,97.3 536.8,92.8C536.9,88.3 538.1,81.0 538.7,76.1C539.4,71.2 539.7,66.1 540.7,63.3C541.7,60.5 543.0,60.1 544.5,59.4Z"/><path d="M569.5,51.7C570.4,51.6 571.1,52.1 572.0,53.0C572.9,53.9 573.7,54.0 574.6,56.8C575.5,59.6 576.5,64.8 577.2,69.7C578.0,74.6 578.9,80.6 579.1,86.4C579.3,92.2 579.1,99.4 578.5,104.3C577.9,109.2 576.7,113.4 575.3,115.9C573.9,118.4 571.7,118.7 570.1,119.1C568.5,119.5 566.7,119.5 565.6,118.5C564.5,117.5 564.3,116.7 563.7,113.3C563.1,109.9 562.0,103.5 561.8,97.9C561.6,92.4 561.9,85.8 562.4,80.0C562.9,74.2 564.2,67.7 565.0,63.3C565.8,58.9 566.1,55.5 566.9,53.6C567.6,51.7 568.6,51.8 569.5,51.7Z"/><path d="M590.7,51.1C592.3,49.9 593.2,50.4 594.5,51.1C595.8,51.9 597.3,53.4 598.4,55.6C599.5,57.8 600.3,60.0 600.9,64.5C601.5,69.0 602.1,77.4 602.2,82.5C602.3,87.6 602.2,91.5 601.6,95.3C601.0,99.1 599.7,103.4 598.4,105.6C597.1,107.8 595.3,108.2 593.9,108.2C592.5,108.2 591.0,107.3 590.0,105.6C589.0,103.9 588.9,101.8 588.1,97.9C587.4,94.1 586.4,87.2 585.5,82.5C584.6,77.8 583.1,73.8 583.0,69.7C582.9,65.6 583.6,61.2 584.9,58.1C586.2,55.0 589.1,52.3 590.7,51.1Z"/></clipPath>
<g clip-path="url(#cpe1)"><rect x="507.90" y="45.30" width="98.90" height="78.90" fill="#fff" filter="url(#grain)" opacity="0.55"/></g>
<rect x="507.90" y="45.30" width="98.90" height="78.90" fill="none" stroke="#111" stroke-width="1.6"/>
<rect x="614.30" y="45.60" width="98.20" height="78.60" fill="#cdc1b1"/>
<g filter="url(#blur)">
<path d="M621.0,63.3C621.8,62.4 623.1,62.1 624.8,62.0C626.5,61.9 629.7,62.2 631.3,62.6C632.9,63.0 633.8,63.3 634.5,64.5C635.2,65.7 635.6,66.7 635.7,69.7C635.8,72.7 635.2,78.2 635.1,82.5C635.0,86.8 635.5,92.7 635.1,95.3C634.7,97.9 633.1,96.2 632.5,97.9C631.9,99.6 631.4,102.8 631.3,105.6C631.2,108.4 632.5,112.4 631.9,114.6C631.2,116.8 629.0,118.1 627.4,118.5C625.8,118.9 623.5,118.9 622.3,117.2C621.1,115.5 620.4,111.9 620.3,108.2C620.2,104.5 621.2,99.6 621.6,95.3C622.0,91.0 622.8,86.3 622.9,82.5C623.0,78.7 622.7,74.8 622.3,72.2C621.9,69.6 620.5,68.6 620.3,67.1C620.1,65.6 620.2,64.1 621.0,63.3Z" fill="#cb9c82"/>
<path d="M641.5,63.3C642.2,62.3 643.9,61.5 645.4,61.3C646.9,61.1 649.0,61.2 650.5,62.0C652.0,62.8 654.0,63.4 654.4,65.8C654.8,68.1 653.8,72.7 653.1,76.1C652.5,79.5 650.5,82.8 650.5,86.4C650.5,90.0 652.2,94.7 653.1,97.9C654.0,101.1 655.4,103.0 655.6,105.6C655.8,108.2 655.7,111.6 654.4,113.3C653.1,115.0 649.9,115.4 648.0,115.9C646.1,116.4 644.1,117.3 642.8,116.5C641.5,115.7 640.1,113.2 640.2,110.8C640.3,108.3 643.1,105.4 643.5,101.8C643.9,98.2 643.2,93.2 642.8,88.9C642.4,84.6 641.2,79.7 640.9,76.1C640.6,72.5 640.8,69.2 640.9,67.1C641.0,65.0 640.8,64.3 641.5,63.3Z" fill="#c9977d"/>
<path d="M665.1,55.6C666.2,54.1 668.4,52.4 670.3,51.7C672.2,51.1 675.0,51.4 676.7,51.7C678.4,52.0 679.9,52.1 680.6,53.6C681.4,55.1 681.4,58.0 681.2,60.7C681.0,63.4 679.2,66.5 679.3,69.7C679.4,72.9 681.0,76.8 681.9,80.0C682.8,83.2 684.1,86.0 684.4,89.0C684.7,92.0 684.2,95.2 683.8,98.0C683.4,100.8 682.3,102.7 681.9,105.7C681.5,108.7 682.3,113.7 681.2,116.0C680.1,118.3 677.4,119.4 675.4,119.8C673.4,120.2 670.7,119.8 669.0,118.5C667.3,117.2 665.8,114.9 665.1,112.1C664.5,109.3 664.4,105.0 665.1,101.8C665.9,98.6 669.0,96.0 669.6,92.8C670.2,89.6 669.6,86.4 669.0,82.6C668.4,78.8 666.6,73.3 665.8,69.7C664.9,66.1 664.0,63.1 663.9,60.7C663.8,58.4 664.0,57.1 665.1,55.6Z" fill="#c37d66"/>
<path d="M690.8,53.6C691.9,52.1 693.8,51.6 695.3,51.7C696.8,51.8 698.3,52.8 699.8,54.3C701.3,55.8 703.0,57.7 704.3,60.7C705.6,63.7 707.0,68.2 707.6,72.3C708.2,76.4 708.4,81.2 708.2,85.1C708.0,88.9 706.9,92.4 706.3,95.4C705.6,98.4 704.9,100.3 704.3,103.1C703.6,105.9 703.3,109.5 702.4,112.1C701.5,114.7 700.4,117.4 698.6,118.5C696.8,119.6 693.3,119.1 691.5,118.5C689.7,117.9 688.4,116.8 687.6,114.7C686.9,112.6 686.7,108.9 687.0,105.7C687.3,102.5 688.8,99.2 689.6,95.4C690.5,91.6 691.9,86.9 692.1,82.6C692.3,78.3 691.3,73.3 690.8,69.7C690.3,66.1 688.9,63.4 688.9,60.7C688.9,58.0 689.7,55.1 690.8,53.6Z" fill="#c5816a"/>
</g>
<g filter="url(#blur2)">
<path d="M623.7,66.9C624.1,66.1 624.9,65.8 625.9,65.8C627.0,65.7 628.9,65.9 629.8,66.3C630.8,66.6 631.3,66.9 631.8,67.9C632.2,68.9 632.4,69.7 632.5,72.3C632.5,74.8 632.2,79.5 632.1,83.2C632.1,86.8 632.4,91.9 632.1,94.1C631.9,96.2 630.9,94.8 630.6,96.3C630.2,97.7 629.9,100.4 629.8,102.8C629.8,105.2 630.6,108.6 630.2,110.5C629.8,112.3 628.5,113.4 627.5,113.8C626.5,114.1 625.2,114.1 624.4,112.7C623.7,111.2 623.3,108.1 623.2,105.0C623.2,101.9 623.8,97.7 624.0,94.1C624.3,90.4 624.7,86.4 624.8,83.2C624.9,79.9 624.7,76.6 624.4,74.4C624.2,72.2 623.4,71.3 623.2,70.1C623.1,68.8 623.2,67.6 623.7,66.9Z" fill="#bb8268" opacity="0.8"/>
<path d="M643.8,67.0C644.3,66.2 645.3,65.5 646.2,65.3C647.1,65.1 648.3,65.3 649.2,65.9C650.1,66.5 651.3,67.1 651.6,69.1C651.8,71.1 651.2,75.0 650.8,77.9C650.4,80.8 649.2,83.6 649.2,86.6C649.2,89.7 650.3,93.7 650.8,96.4C651.3,99.1 652.2,100.8 652.3,103.0C652.4,105.1 652.3,108.1 651.6,109.5C650.8,111.0 648.9,111.3 647.7,111.7C646.6,112.2 645.4,113.0 644.6,112.2C643.8,111.5 643.0,109.5 643.1,107.4C643.1,105.3 644.8,102.8 645.0,99.7C645.3,96.6 644.9,92.4 644.6,88.8C644.4,85.1 643.7,81.0 643.5,77.9C643.3,74.8 643.4,72.1 643.5,70.2C643.5,68.4 643.4,67.8 643.8,67.0Z" fill="#b97e64" opacity="0.8"/>
<path d="M668.7,59.8C669.4,58.5 670.7,57.0 671.8,56.5C673.0,55.9 674.7,56.2 675.7,56.5C676.7,56.8 677.6,56.8 678.0,58.1C678.5,59.4 678.5,61.9 678.4,64.1C678.3,66.4 677.2,69.1 677.2,71.8C677.3,74.5 678.3,77.8 678.8,80.6C679.3,83.3 680.1,85.7 680.3,88.2C680.5,90.8 680.2,93.5 679.9,95.9C679.7,98.2 679.1,99.8 678.8,102.4C678.5,104.9 679.0,109.2 678.4,111.2C677.7,113.1 676.1,114.0 674.9,114.4C673.7,114.7 672.1,114.4 671.1,113.3C670.0,112.2 669.1,110.2 668.7,107.8C668.3,105.5 668.3,101.8 668.7,99.1C669.2,96.3 671.0,94.2 671.4,91.4C671.8,88.7 671.4,86.0 671.1,82.8C670.7,79.5 669.7,74.9 669.1,71.8C668.6,68.7 668.1,66.1 668.0,64.1C667.9,62.1 668.1,61.1 668.7,59.8Z" fill="#ad624b" opacity="0.8"/>
<path d="M693.2,58.4C693.8,57.1 695.0,56.7 695.9,56.8C696.8,56.9 697.7,57.7 698.6,59.0C699.5,60.3 700.5,61.9 701.3,64.4C702.1,67.0 702.9,70.8 703.3,74.3C703.7,77.7 703.8,81.9 703.6,85.2C703.5,88.4 702.9,91.4 702.5,93.9C702.1,96.5 701.7,98.1 701.3,100.5C700.9,102.8 700.7,105.9 700.1,108.1C699.6,110.3 699.0,112.6 697.9,113.6C696.8,114.5 694.7,114.1 693.6,113.6C692.5,113.0 691.7,112.1 691.3,110.3C690.8,108.5 690.7,105.4 690.9,102.7C691.1,99.9 692.0,97.2 692.5,93.9C693.0,90.6 693.8,86.7 694.0,83.0C694.1,79.4 693.5,75.2 693.2,72.1C692.9,69.0 692.0,66.7 692.0,64.4C692.0,62.1 692.5,59.7 693.2,58.4Z" fill="#b0664f" opacity="0.8"/>
</g>
<g filter="url(#blur3)" fill="#ecc8b8">
<ellipse cx="629.8" cy="68.9" rx="0.9" ry="1.0" opacity="0.8"/>
<ellipse cx="628.1" cy="98.7" rx="1.1" ry="1.0" opacity="0.8"/>
<ellipse cx="629.7" cy="91.7" rx="0.9" ry="1.0" opacity="0.8"/>
<ellipse cx="626.1" cy="79.0" rx="1.4" ry="1.0" opacity="0.8"/>
<ellipse cx="629.5" cy="91.9" rx="1.5" ry="1.0" opacity="0.8"/>
<ellipse cx="627.7" cy="94.0" rx="1.2" ry="1.1" opacity="0.8"/>
<ellipse cx="627.9" cy="87.4" rx="1.2" ry="1.3" opacity="0.8"/>
<ellipse cx="630.3" cy="97.6" rx="1.6" ry="0.9" opacity="0.8"/>
<ellipse cx="630.8" cy="91.9" rx="1.5" ry="0.8" opacity="0.8"/>
<ellipse cx="627.3" cy="73.8" rx="0.9" ry="0.8" opacity="0.8"/>
<ellipse cx="648.5" cy="70.9" rx="1.4" ry="1.2" opacity="0.8"/>
<ellipse cx="648.9" cy="74.1" rx="1.3" ry="0.8" opacity="0.8"/>
<ellipse cx="650.6" cy="103.5" rx="1.0" ry="1.3" opacity="0.8"/>
<ellipse cx="647.3" cy="84.0" rx="1.6" ry="1.2" opacity="0.8"/>
<ellipse cx="646.9" cy="74.4" rx="1.2" ry="0.9" opacity="0.8"/>
<ellipse cx="646.1" cy="75.8" rx="1.4" ry="0.7" opacity="0.8"/>
<ellipse cx="646.9" cy="90.3" rx="0.8" ry="0.9" opacity="0.8"/>
<ellipse cx="647.4" cy="93.1" rx="0.9" ry="1.3" opacity="0.8"/>
<ellipse cx="650.7" cy="99.7" rx="0.9" ry="0.9" opacity="0.8"/>
<ellipse cx="649.3" cy="69.5" rx="1.0" ry="0.8" opacity="0.8"/>
<ellipse cx="677.1" cy="80.9" rx="1.5" ry="0.9" opacity="0.8"/>
<ellipse cx="677.1" cy="67.3" rx="1.3" ry="1.1" opacity="0.8"/>
<ellipse cx="671.1" cy="64.3" rx="1.4" ry="1.0" opacity="0.8"/>
<ellipse cx="677.2" cy="63.5" rx="1.3" ry="1.2" opacity="0.8"/>
<ellipse cx="676.7" cy="64.0" rx="0.9" ry="1.2" opacity="0.8"/>
<ellipse cx="673.0" cy="82.4" rx="1.2" ry="1.3" opacity="0.8"/>
<ellipse cx="671.6" cy="73.2" rx="1.2" ry="0.8" opacity="0.8"/>
<ellipse cx="671.8" cy="65.3" rx="0.8" ry="0.8" opacity="0.8"/>
<ellipse cx="672.8" cy="75.4" rx="1.4" ry="0.9" opacity="0.8"/>
<ellipse cx="671.9" cy="84.7" rx="1.1" ry="0.7" opacity="0.8"/>
<ellipse cx="693.4" cy="71.9" rx="1.4" ry="1.0" opacity="0.8"/>
<ellipse cx="696.6" cy="69.0" rx="1.5" ry="0.8" opacity="0.8"/>
<ellipse cx="696.3" cy="99.6" rx="1.2" ry="1.2" opacity="0.8"/>
<ellipse cx="696.8" cy="78.9" rx="1.4" ry="1.3" opacity="0.8"/>
<ellipse cx="699.1" cy="76.4" rx="1.4" ry="1.1" opacity="0.8"/>
<ellipse cx="695.7" cy="79.5" rx="0.8" ry="0.8" opacity="0.8"/>
<ellipse cx="698.5" cy="63.2" rx="1.0" ry="0.8" opacity="0.8"/>
<ellipse cx="699.2" cy="63.8" rx="1.5" ry="1.1" opacity="0.8"/>
<ellipse cx="695.0" cy="73.5" rx="1.0" ry="1.0" opacity="0.8"/>
<ellipse cx="696.4" cy="67.4" rx="1.0" ry="1.3" opacity="0.8"/>
</g>
<clipPath id="cpi1"><path d="M621.0,63.3C621.8,62.4 623.1,62.1 624.8,62.0C626.5,61.9 629.7,62.2 631.3,62.6C632.9,63.0 633.8,63.3 634.5,64.5C635.2,65.7 635.6,66.7 635.7,69.7C635.8,72.7 635.2,78.2 635.1,82.5C635.0,86.8 635.5,92.7 635.1,95.3C634.7,97.9 633.1,96.2 632.5,97.9C631.9,99.6 631.4,102.8 631.3,105.6C631.2,108.4 632.5,112.4 631.9,114.6C631.2,116.8 629.0,118.1 627.4,118.5C625.8,118.9 623.5,118.9 622.3,117.2C621.1,115.5 620.4,111.9 620.3,108.2C620.2,104.5 621.2,99.6 621.6,95.3C622.0,91.0 622.8,86.3 622.9,82.5C623.0,78.7 622.7,74.8 622.3,72.2C621.9,69.6 620.5,68.6 620.3,67.1C620.1,65.6 620.2,64.1 621.0,63.3Z"/><path d="M641.5,63.3C642.2,62.3 643.9,61.5 645.4,61.3C646.9,61.1 649.0,61.2 650.5,62.0C652.0,62.8 654.0,63.4 654.4,65.8C654.8,68.1 653.8,72.7 653.1,76.1C652.5,79.5 650.5,82.8 650.5,86.4C650.5,90.0 652.2,94.7 653.1,97.9C654.0,101.1 655.4,103.0 655.6,105.6C655.8,108.2 655.7,111.6 654.4,113.3C653.1,115.0 649.9,115.4 648.0,115.9C646.1,116.4 644.1,117.3 642.8,116.5C641.5,115.7 640.1,113.2 640.2,110.8C640.3,108.3 643.1,105.4 643.5,101.8C643.9,98.2 643.2,93.2 642.8,88.9C642.4,84.6 641.2,79.7 640.9,76.1C640.6,72.5 640.8,69.2 640.9,67.1C641.0,65.0 640.8,64.3 641.5,63.3Z"/><path d="M665.1,55.6C666.2,54.1 668.4,52.4 670.3,51.7C672.2,51.1 675.0,51.4 676.7,51.7C678.4,52.0 679.9,52.1 680.6,53.6C681.4,55.1 681.4,58.0 681.2,60.7C681.0,63.4 679.2,66.5 679.3,69.7C679.4,72.9 681.0,76.8 681.9,80.0C682.8,83.2 684.1,86.0 684.4,89.0C684.7,92.0 684.2,95.2 683.8,98.0C683.4,100.8 682.3,102.7 681.9,105.7C681.5,108.7 682.3,113.7 681.2,116.0C680.1,118.3 677.4,119.4 675.4,119.8C673.4,120.2 670.7,119.8 669.0,118.5C667.3,117.2 665.8,114.9 665.1,112.1C664.5,109.3 664.4,105.0 665.1,101.8C665.9,98.6 669.0,96.0 669.6,92.8C670.2,89.6 669.6,86.4 669.0,82.6C668.4,78.8 666.6,73.3 665.8,69.7C664.9,66.1 664.0,63.1 663.9,60.7C663.8,58.4 664.0,57.1 665.1,55.6Z"/><path d="M690.8,53.6C691.9,52.1 693.8,51.6 695.3,51.7C696.8,51.8 698.3,52.8 699.8,54.3C701.3,55.8 703.0,57.7 704.3,60.7C705.6,63.7 707.0,68.2 707.6,72.3C708.2,76.4 708.4,81.2 708.2,85.1C708.0,88.9 706.9,92.4 706.3,95.4C705.6,98.4 704.9,100.3 704.3,103.1C703.6,105.9 703.3,109.5 702.4,112.1C701.5,114.7 700.4,117.4 698.6,118.5C696.8,119.6 693.3,119.1 691.5,118.5C689.7,117.9 688.4,116.8 687.6,114.7C686.9,112.6 686.7,108.9 687.0,105.7C687.3,102.5 688.8,99.2 689.6,95.4C690.5,91.6 691.9,86.9 692.1,82.6C692.3,78.3 691.3,73.3 690.8,69.7C690.3,66.1 688.9,63.4 688.9,60.7C688.9,58.0 689.7,55.1 690.8,53.6Z"/></clipPath>
<g clip-path="url(#cpi1)"><rect x="614.30" y="45.60" width="98.20" height="78.60" fill="#fff" filter="url(#grain)" opacity="0.55"/></g>
<rect x="614.30" y="45.60" width="98.20" height="78.60" fill="none" stroke="#111" stroke-width="1.6"/>
<text x="557.30" y="40.50" font-size="13.3" text-anchor="middle" fill="#000">eWAT</text>
<text x="660.30" y="40.30" font-size="13.3" text-anchor="middle" fill="#000">iWAT</text>
<text x="533.10" y="139.50" font-size="13.1" text-anchor="middle" fill="#000">ctrl</text>
<text x="582.60" y="139.60" font-size="13.3" text-anchor="middle" fill="#000">KO</text>
<text x="637.60" y="139.30" font-size="13.1" text-anchor="middle" fill="#000">ctrl</text>
<text x="687.10" y="139.40" font-size="13.3" text-anchor="middle" fill="#000">KO</text>
<text x="0.20" y="247.80" font-size="19.5" text-anchor="start" font-weight="bold" style="stroke-width:0" fill="#000">c</text>
<text x="46.00" y="267.50" font-size="16.05" text-anchor="start" fill="#000">HFD Body Composition</text>
<line x1="43.50" y1="275.95" x2="43.50" y2="402.00" stroke="#000" stroke-width="1.3" stroke-linecap="butt"/>
<line x1="40.10" y1="276.60" x2="43.50" y2="276.60" stroke="#000" stroke-width="1.3" stroke-linecap="butt"/>
<text x="39.30" y="280.30" font-size="9.6" text-anchor="end" fill="#000">25</text>
<line x1="40.10" y1="301.68" x2="43.50" y2="301.68" stroke="#000" stroke-width="1.3" stroke-linecap="butt"/>
<text x="39.30" y="305.38" font-size="9.6" text-anchor="end" fill="#000">20</text>
<line x1="40.10" y1="326.76" x2="43.50" y2="326.76" stroke="#000" stroke-width="1.3" stroke-linecap="butt"/>
<text x="39.30" y="330.46" font-size="9.6" text-anchor="end" fill="#000">15</text>
<line x1="40.10" y1="351.84" x2="43.50" y2="351.84" stroke="#000" stroke-width="1.3" stroke-linecap="butt"/>
<text x="39.30" y="355.54" font-size="9.6" text-anchor="end" fill="#000">10</text>
<line x1="40.10" y1="376.92" x2="43.50" y2="376.92" stroke="#000" stroke-width="1.3" stroke-linecap="butt"/>
<text x="39.30" y="380.62" font-size="9.6" text-anchor="end" fill="#000">5</text>
<line x1="40.10" y1="402.00" x2="43.50" y2="402.00" stroke="#000" stroke-width="1.3" stroke-linecap="butt"/>
<text x="39.30" y="405.70" font-size="9.6" text-anchor="end" fill="#000">0</text>
<line x1="42.85" y1="402.00" x2="214.00" y2="402.00" stroke="#000" stroke-width="1.5" stroke-linecap="butt"/>
<line x1="86.20" y1="402.00" x2="86.20" y2="405.30" stroke="#000" stroke-width="1.3" stroke-linecap="butt"/>
<line x1="171.40" y1="402.00" x2="171.40" y2="405.30" stroke="#000" stroke-width="1.3" stroke-linecap="butt"/>
<text x="21.50" y="375.60" font-size="10.7" text-anchor="start" fill="#000" transform="rotate(-90 21.5 375.6)">Tissue Mass (g)</text>
<line x1="71.65" y1="302.18" x2="71.65" y2="299.42" stroke="#000" stroke-width="1.3" stroke-linecap="butt"/>
<line x1="64.35" y1="299.42" x2="78.95" y2="299.42" stroke="#000" stroke-width="1.4" stroke-linecap="butt"/>
<line x1="100.55" y1="300.68" x2="100.55" y2="297.17" stroke="#000" stroke-width="1.3" stroke-linecap="butt"/>
<line x1="93.25" y1="297.17" x2="107.85" y2="297.17" stroke="#000" stroke-width="1.4" stroke-linecap="butt"/>
<rect x="57.20" y="302.18" width="28.90" height="99.82" fill="#000"/>
<rect x="86.60" y="301.18" width="27.90" height="100.82" fill="#ff0000" stroke="#000" stroke-width="1.0"/>
<line x1="157.05" y1="342.81" x2="157.05" y2="334.03" stroke="#000" stroke-width="1.3" stroke-linecap="butt"/>
<line x1="149.75" y1="334.03" x2="164.35" y2="334.03" stroke="#000" stroke-width="1.4" stroke-linecap="butt"/>
<line x1="185.95" y1="306.70" x2="185.95" y2="294.41" stroke="#000" stroke-width="1.3" stroke-linecap="butt"/>
<line x1="178.65" y1="294.41" x2="193.25" y2="294.41" stroke="#000" stroke-width="1.4" stroke-linecap="butt"/>
<rect x="142.60" y="342.81" width="28.90" height="59.19" fill="#000"/>
<rect x="172.00" y="307.20" width="27.90" height="94.80" fill="#ff0000" stroke="#000" stroke-width="1.0"/>
<path d="M186.20,288.50L186.20,285.90M186.20,288.50L188.67,287.70M186.20,288.50L187.73,290.60M186.20,288.50L184.67,290.60M186.20,288.50L183.73,287.70" stroke="#000" stroke-width="0.95" stroke-linecap="butt" fill="none"/>
<text x="85.80" y="421.40" font-size="13.2" text-anchor="middle" fill="#000">Lean Mass</text>
<text x="173.60" y="421.40" font-size="13.2" text-anchor="middle" fill="#000">Fat Mass</text>
<text x="240.50" y="249.80" font-size="19.5" text-anchor="start" font-weight="bold" style="stroke-width:0" fill="#000">d</text>
<text x="331.00" y="267.10" font-size="15.8" text-anchor="start" fill="#000">HFD IPITT</text>
<line x1="282.30" y1="280.55" x2="282.30" y2="399.50" stroke="#000" stroke-width="1.3" stroke-linecap="butt"/>
<line x1="278.90" y1="281.20" x2="282.30" y2="281.20" stroke="#000" stroke-width="1.3" stroke-linecap="butt"/>
<text x="278.40" y="285.80" font-size="9.7" text-anchor="end" fill="#000">100</text>
<line x1="278.90" y1="304.92" x2="282.30" y2="304.92" stroke="#000" stroke-width="1.3" stroke-linecap="butt"/>
<text x="278.40" y="309.52" font-size="9.7" text-anchor="end" fill="#000">80</text>
<line x1="278.90" y1="328.64" x2="282.30" y2="328.64" stroke="#000" stroke-width="1.3" stroke-linecap="butt"/>
<text x="278.40" y="333.24" font-size="9.7" text-anchor="end" fill="#000">60</text>
<line x1="278.90" y1="352.36" x2="282.30" y2="352.36" stroke="#000" stroke-width="1.3" stroke-linecap="butt"/>
<text x="278.40" y="356.96" font-size="9.7" text-anchor="end" fill="#000">40</text>
<line x1="278.90" y1="376.08" x2="282.30" y2="376.08" stroke="#000" stroke-width="1.3" stroke-linecap="butt"/>
<text x="278.40" y="380.68" font-size="9.7" text-anchor="end" fill="#000">20</text>
<line x1="278.90" y1="399.80" x2="282.30" y2="399.80" stroke="#000" stroke-width="1.3" stroke-linecap="butt"/>
<text x="278.40" y="404.40" font-size="9.7" text-anchor="end" fill="#000">0</text>
<line x1="281.65" y1="399.50" x2="455.15" y2="399.50" stroke="#000" stroke-width="1.3" stroke-linecap="butt"/>
<line x1="282.30" y1="399.50" x2="282.30" y2="402.90" stroke="#000" stroke-width="1.3" stroke-linecap="butt"/>
<text x="282.30" y="413.10" font-size="10.5" text-anchor="middle" fill="#000">0</text>
<line x1="311.00" y1="399.50" x2="311.00" y2="402.90" stroke="#000" stroke-width="1.3" stroke-linecap="butt"/>
<text x="311.00" y="413.10" font-size="10.5" text-anchor="middle" fill="#000">15</text>
<line x1="339.70" y1="399.50" x2="339.70" y2="402.90" stroke="#000" stroke-width="1.3" stroke-linecap="butt"/>
<text x="339.70" y="413.10" font-size="10.5" text-anchor="middle" fill="#000">30</text>
<line x1="368.40" y1="399.50" x2="368.40" y2="402.90" stroke="#000" stroke-width="1.3" stroke-linecap="butt"/>
<text x="368.40" y="413.10" font-size="10.5" text-anchor="middle" fill="#000">45</text>
<line x1="397.10" y1="399.50" x2="397.10" y2="402.90" stroke="#000" stroke-width="1.3" stroke-linecap="butt"/>
<text x="397.10" y="413.10" font-size="10.5" text-anchor="middle" fill="#000">60</text>
<line x1="425.80" y1="399.50" x2="425.80" y2="402.90" stroke="#000" stroke-width="1.3" stroke-linecap="butt"/>
<text x="425.80" y="413.10" font-size="10.5" text-anchor="middle" fill="#000">75</text>
<line x1="454.50" y1="399.50" x2="454.50" y2="402.90" stroke="#000" stroke-width="1.3" stroke-linecap="butt"/>
<text x="454.50" y="413.10" font-size="10.5" text-anchor="middle" fill="#000">90</text>
<text x="332.00" y="431.40" font-size="15.95" text-anchor="start" fill="#000">Time (min)</text>
<text x="258.80" y="423.80" font-size="10.85" text-anchor="start" fill="#000" transform="rotate(-90 258.8 423.8)">Percent Basal Blood Glucose (%)</text>
<line x1="311.00" y1="288.91" x2="311.00" y2="303.14" stroke="#ff0000" stroke-width="1.5" stroke-linecap="butt"/>
<line x1="308.50" y1="288.91" x2="313.50" y2="288.91" stroke="#ff0000" stroke-width="1.5" stroke-linecap="butt"/>
<line x1="308.50" y1="303.14" x2="313.50" y2="303.14" stroke="#ff0000" stroke-width="1.5" stroke-linecap="butt"/>
<line x1="339.70" y1="315.59" x2="339.70" y2="327.45" stroke="#ff0000" stroke-width="1.5" stroke-linecap="butt"/>
<line x1="337.20" y1="315.59" x2="342.20" y2="315.59" stroke="#ff0000" stroke-width="1.5" stroke-linecap="butt"/>
<line x1="337.20" y1="327.45" x2="342.20" y2="327.45" stroke="#ff0000" stroke-width="1.5" stroke-linecap="butt"/>
<line x1="397.10" y1="323.30" x2="397.10" y2="338.72" stroke="#ff0000" stroke-width="1.5" stroke-linecap="butt"/>
<line x1="394.60" y1="323.30" x2="399.60" y2="323.30" stroke="#ff0000" stroke-width="1.5" stroke-linecap="butt"/>
<line x1="394.60" y1="338.72" x2="399.60" y2="338.72" stroke="#ff0000" stroke-width="1.5" stroke-linecap="butt"/>
<line x1="454.50" y1="309.07" x2="454.50" y2="333.98" stroke="#ff0000" stroke-width="1.5" stroke-linecap="butt"/>
<line x1="452.00" y1="309.07" x2="457.00" y2="309.07" stroke="#ff0000" stroke-width="1.5" stroke-linecap="butt"/>
<line x1="452.00" y1="333.98" x2="457.00" y2="333.98" stroke="#ff0000" stroke-width="1.5" stroke-linecap="butt"/>
<polyline points="282.30,281.20 311.00,296.03 339.70,321.52 397.10,331.01 454.50,321.52" fill="none" stroke="#ff0000" stroke-width="2.3" stroke-linejoin="round"/>
<rect x="279.90" y="278.80" width="4.80" height="4.80" fill="#ff0000"/>
<rect x="308.60" y="293.63" width="4.80" height="4.80" fill="#ff0000"/>
<rect x="337.30" y="319.12" width="4.80" height="4.80" fill="#ff0000"/>
<rect x="394.70" y="328.61" width="4.80" height="4.80" fill="#ff0000"/>
<rect x="452.10" y="319.12" width="4.80" height="4.80" fill="#ff0000"/>
<line x1="311.00" y1="285.94" x2="311.00" y2="297.80" stroke="#000" stroke-width="1.5" stroke-linecap="butt"/>
<line x1="308.50" y1="285.94" x2="313.50" y2="285.94" stroke="#000" stroke-width="1.5" stroke-linecap="butt"/>
<line x1="308.50" y1="297.80" x2="313.50" y2="297.80" stroke="#000" stroke-width="1.5" stroke-linecap="butt"/>
<line x1="339.70" y1="328.64" x2="339.70" y2="334.57" stroke="#000" stroke-width="1.5" stroke-linecap="butt"/>
<line x1="337.20" y1="328.64" x2="342.20" y2="328.64" stroke="#000" stroke-width="1.5" stroke-linecap="butt"/>
<line x1="337.20" y1="334.57" x2="342.20" y2="334.57" stroke="#000" stroke-width="1.5" stroke-linecap="butt"/>
<line x1="454.50" y1="350.58" x2="454.50" y2="356.51" stroke="#000" stroke-width="1.5" stroke-linecap="butt"/>
<line x1="452.00" y1="350.58" x2="457.00" y2="350.58" stroke="#000" stroke-width="1.5" stroke-linecap="butt"/>
<line x1="452.00" y1="356.51" x2="457.00" y2="356.51" stroke="#000" stroke-width="1.5" stroke-linecap="butt"/>
<polyline points="282.30,281.20 311.00,291.87 339.70,331.61 397.10,351.17 454.50,353.55" fill="none" stroke="#000" stroke-width="2.3" stroke-linejoin="round"/>
<circle cx="282.30" cy="281.20" r="2.4" fill="#000"/>
<circle cx="311.00" cy="291.87" r="2.4" fill="#000"/>
<circle cx="339.70" cy="331.61" r="2.4" fill="#000"/>
<circle cx="397.10" cy="351.17" r="2.4" fill="#000"/>
<circle cx="454.50" cy="353.55" r="2.4" fill="#000"/>
<path d="M397.10,319.80L397.10,317.20M397.10,319.80L399.57,319.00M397.10,319.80L398.63,321.90M397.10,319.80L395.57,321.90M397.10,319.80L394.63,319.00" stroke="#000" stroke-width="1.0" stroke-linecap="butt" fill="none"/>
<path d="M451.20,304.10L451.20,301.50M451.20,304.10L453.67,303.30M451.20,304.10L452.73,306.20M451.20,304.10L449.67,306.20M451.20,304.10L448.73,303.30" stroke="#000" stroke-width="1.0" stroke-linecap="butt" fill="none"/>
<path d="M457.80,304.10L457.80,301.50M457.80,304.10L460.27,303.30M457.80,304.10L459.33,306.20M457.80,304.10L456.27,306.20M457.80,304.10L455.33,303.30" stroke="#000" stroke-width="1.0" stroke-linecap="butt" fill="none"/>
<text x="486.00" y="250.30" font-size="19.5" text-anchor="start" font-weight="bold" style="stroke-width:0" fill="#000">e</text>
<text x="572.80" y="267.30" font-size="16.1" text-anchor="start" fill="#000">HFD IPGTT</text>
<line x1="525.30" y1="277.95" x2="525.30" y2="397.00" stroke="#000" stroke-width="1.3" stroke-linecap="butt"/>
<line x1="521.90" y1="278.60" x2="525.30" y2="278.60" stroke="#000" stroke-width="1.3" stroke-linecap="butt"/>
<text x="520.40" y="283.60" font-size="9.4" text-anchor="end" fill="#000">500</text>
<line x1="521.90" y1="302.28" x2="525.30" y2="302.28" stroke="#000" stroke-width="1.3" stroke-linecap="butt"/>
<text x="520.40" y="307.28" font-size="9.4" text-anchor="end" fill="#000">400</text>
<line x1="521.90" y1="325.96" x2="525.30" y2="325.96" stroke="#000" stroke-width="1.3" stroke-linecap="butt"/>
<text x="520.40" y="330.96" font-size="9.4" text-anchor="end" fill="#000">300</text>
<line x1="521.90" y1="349.64" x2="525.30" y2="349.64" stroke="#000" stroke-width="1.3" stroke-linecap="butt"/>
<text x="520.40" y="354.64" font-size="9.4" text-anchor="end" fill="#000">200</text>
<line x1="521.90" y1="373.32" x2="525.30" y2="373.32" stroke="#000" stroke-width="1.3" stroke-linecap="butt"/>
<text x="520.40" y="378.32" font-size="9.4" text-anchor="end" fill="#000">100</text>
<line x1="521.90" y1="397.00" x2="525.30" y2="397.00" stroke="#000" stroke-width="1.3" stroke-linecap="butt"/>
<text x="520.40" y="402.00" font-size="9.4" text-anchor="end" fill="#000">0</text>
<line x1="524.65" y1="397.00" x2="697.15" y2="397.00" stroke="#000" stroke-width="1.3" stroke-linecap="butt"/>
<line x1="525.30" y1="397.00" x2="525.30" y2="400.40" stroke="#000" stroke-width="1.3" stroke-linecap="butt"/>
<text x="525.30" y="410.70" font-size="10.5" text-anchor="middle" fill="#000">0</text>
<line x1="546.70" y1="397.00" x2="546.70" y2="400.40" stroke="#000" stroke-width="1.3" stroke-linecap="butt"/>
<text x="546.70" y="410.70" font-size="10.5" text-anchor="middle" fill="#000">15</text>
<line x1="568.10" y1="397.00" x2="568.10" y2="400.40" stroke="#000" stroke-width="1.3" stroke-linecap="butt"/>
<text x="568.10" y="410.70" font-size="10.5" text-anchor="middle" fill="#000">30</text>
<line x1="589.50" y1="397.00" x2="589.50" y2="400.40" stroke="#000" stroke-width="1.3" stroke-linecap="butt"/>
<text x="589.50" y="410.70" font-size="10.5" text-anchor="middle" fill="#000">45</text>
<line x1="610.90" y1="397.00" x2="610.90" y2="400.40" stroke="#000" stroke-width="1.3" stroke-linecap="butt"/>
<text x="610.90" y="410.70" font-size="10.5" text-anchor="middle" fill="#000">60</text>
<line x1="632.30" y1="397.00" x2="632.30" y2="400.40" stroke="#000" stroke-width="1.3" stroke-linecap="butt"/>
<text x="632.30" y="410.70" font-size="10.5" text-anchor="middle" fill="#000">75</text>
<line x1="653.70" y1="397.00" x2="653.70" y2="400.40" stroke="#000" stroke-width="1.3" stroke-linecap="butt"/>
<text x="653.70" y="410.70" font-size="10.5" text-anchor="middle" fill="#000">90</text>
<line x1="675.10" y1="397.00" x2="675.10" y2="400.40" stroke="#000" stroke-width="1.3" stroke-linecap="butt"/>
<text x="675.10" y="410.70" font-size="10.5" text-anchor="middle" fill="#000">105</text>
<line x1="696.50" y1="397.00" x2="696.50" y2="400.40" stroke="#000" stroke-width="1.3" stroke-linecap="butt"/>
<text x="696.50" y="410.70" font-size="10.5" text-anchor="middle" fill="#000">120</text>
<text x="574.00" y="431.20" font-size="15.9" text-anchor="start" fill="#000">Time (min)</text>
<text x="496.60" y="391.30" font-size="10.85" text-anchor="start" fill="#000" transform="rotate(-90 496.6 391.3)">Blood Glucose (mg/dL)</text>
<line x1="546.70" y1="327.85" x2="546.70" y2="334.48" stroke="#ff0000" stroke-width="1.5" stroke-linecap="butt"/>
<line x1="544.30" y1="327.85" x2="549.10" y2="327.85" stroke="#ff0000" stroke-width="1.5" stroke-linecap="butt"/>
<line x1="544.30" y1="334.48" x2="549.10" y2="334.48" stroke="#ff0000" stroke-width="1.5" stroke-linecap="butt"/>
<line x1="568.10" y1="291.86" x2="568.10" y2="309.86" stroke="#ff0000" stroke-width="1.5" stroke-linecap="butt"/>
<line x1="565.70" y1="291.86" x2="570.50" y2="291.86" stroke="#ff0000" stroke-width="1.5" stroke-linecap="butt"/>
<line x1="565.70" y1="309.86" x2="570.50" y2="309.86" stroke="#ff0000" stroke-width="1.5" stroke-linecap="butt"/>
<line x1="610.90" y1="318.38" x2="610.90" y2="331.64" stroke="#ff0000" stroke-width="1.5" stroke-linecap="butt"/>
<line x1="608.50" y1="318.38" x2="613.30" y2="318.38" stroke="#ff0000" stroke-width="1.5" stroke-linecap="butt"/>
<line x1="608.50" y1="331.64" x2="613.30" y2="331.64" stroke="#ff0000" stroke-width="1.5" stroke-linecap="butt"/>
<line x1="696.50" y1="356.74" x2="696.50" y2="363.85" stroke="#ff0000" stroke-width="1.5" stroke-linecap="butt"/>
<line x1="694.10" y1="356.74" x2="698.90" y2="356.74" stroke="#ff0000" stroke-width="1.5" stroke-linecap="butt"/>
<line x1="694.10" y1="363.85" x2="698.90" y2="363.85" stroke="#ff0000" stroke-width="1.5" stroke-linecap="butt"/>
<polyline points="525.30,380.42 546.70,331.17 568.10,300.86 610.90,325.01 696.50,360.30" fill="none" stroke="#ff0000" stroke-width="2.4" stroke-linejoin="round"/>
<rect x="522.80" y="377.92" width="5.00" height="5.00" fill="#ff0000"/>
<rect x="544.20" y="328.67" width="5.00" height="5.00" fill="#ff0000"/>
<rect x="565.60" y="298.36" width="5.00" height="5.00" fill="#ff0000"/>
<rect x="608.40" y="322.51" width="5.00" height="5.00" fill="#ff0000"/>
<rect x="694.00" y="357.80" width="5.00" height="5.00" fill="#ff0000"/>
<line x1="546.70" y1="330.22" x2="546.70" y2="339.69" stroke="#000" stroke-width="1.5" stroke-linecap="butt"/>
<line x1="544.30" y1="330.22" x2="549.10" y2="330.22" stroke="#000" stroke-width="1.5" stroke-linecap="butt"/>
<line x1="544.30" y1="339.69" x2="549.10" y2="339.69" stroke="#000" stroke-width="1.5" stroke-linecap="butt"/>
<line x1="568.10" y1="303.70" x2="568.10" y2="316.72" stroke="#000" stroke-width="1.5" stroke-linecap="butt"/>
<line x1="565.70" y1="303.70" x2="570.50" y2="303.70" stroke="#000" stroke-width="1.5" stroke-linecap="butt"/>
<line x1="565.70" y1="316.72" x2="570.50" y2="316.72" stroke="#000" stroke-width="1.5" stroke-linecap="butt"/>
<line x1="610.90" y1="322.17" x2="610.90" y2="335.91" stroke="#000" stroke-width="1.5" stroke-linecap="butt"/>
<line x1="608.50" y1="322.17" x2="613.30" y2="322.17" stroke="#000" stroke-width="1.5" stroke-linecap="butt"/>
<line x1="608.50" y1="335.91" x2="613.30" y2="335.91" stroke="#000" stroke-width="1.5" stroke-linecap="butt"/>
<line x1="696.50" y1="361.72" x2="696.50" y2="366.93" stroke="#000" stroke-width="1.5" stroke-linecap="butt"/>
<line x1="694.10" y1="361.72" x2="698.90" y2="361.72" stroke="#000" stroke-width="1.5" stroke-linecap="butt"/>
<line x1="694.10" y1="366.93" x2="698.90" y2="366.93" stroke="#000" stroke-width="1.5" stroke-linecap="butt"/>
<polyline points="525.30,382.56 546.70,334.96 568.10,310.33 610.90,329.28 696.50,364.56" fill="none" stroke="#000" stroke-width="2.4" stroke-linejoin="round"/>
<circle cx="525.30" cy="382.56" r="2.5" fill="#000"/>
<circle cx="546.70" cy="334.96" r="2.5" fill="#000"/>
<circle cx="568.10" cy="310.33" r="2.5" fill="#000"/>
<circle cx="610.90" cy="329.28" r="2.5" fill="#000"/>
<circle cx="696.50" cy="364.56" r="2.5" fill="#000"/>
<line x1="669.50" y1="286.60" x2="681.80" y2="286.60" stroke="#000" stroke-width="1.6" stroke-linecap="butt"/>
<circle cx="676.10" cy="286.60" r="2.2" fill="#000"/>
<text x="684.40" y="290.40" font-size="12.7" text-anchor="start" fill="#000">ctrl</text>
<line x1="669.50" y1="300.60" x2="681.80" y2="300.60" stroke="#ff0000" stroke-width="1.6" stroke-linecap="butt"/>
<rect x="674.00" y="298.40" width="4.40" height="4.40" fill="#ff0000"/>
<text x="685.60" y="305.50" font-size="12.5" text-anchor="start" fill="#000">KO</text>
<text x="1.80" y="455.60" font-size="19.5" text-anchor="start" font-weight="bold" style="stroke-width:0" fill="#000">f</text>
<text x="58.30" y="480.80" font-size="16.1" text-anchor="start" fill="#000">HFD Plasma Insulin</text>
<line x1="42.90" y1="487.95" x2="42.90" y2="615.20" stroke="#000" stroke-width="1.3" stroke-linecap="butt"/>
<line x1="39.50" y1="488.60" x2="42.90" y2="488.60" stroke="#000" stroke-width="1.3" stroke-linecap="butt"/>
<text x="38.60" y="493.00" font-size="9.6" text-anchor="end" fill="#000">6</text>
<line x1="39.50" y1="530.80" x2="42.90" y2="530.80" stroke="#000" stroke-width="1.3" stroke-linecap="butt"/>
<text x="38.60" y="535.20" font-size="9.6" text-anchor="end" fill="#000">4</text>
<line x1="39.50" y1="573.00" x2="42.90" y2="573.00" stroke="#000" stroke-width="1.3" stroke-linecap="butt"/>
<text x="38.60" y="577.40" font-size="9.6" text-anchor="end" fill="#000">2</text>
<line x1="39.50" y1="615.20" x2="42.90" y2="615.20" stroke="#000" stroke-width="1.3" stroke-linecap="butt"/>
<text x="38.60" y="619.60" font-size="9.6" text-anchor="end" fill="#000">0</text>
<line x1="42.25" y1="615.20" x2="214.60" y2="615.20" stroke="#000" stroke-width="1.5" stroke-linecap="butt"/>
<line x1="86.00" y1="615.20" x2="86.00" y2="618.40" stroke="#000" stroke-width="1.3" stroke-linecap="butt"/>
<line x1="171.40" y1="615.20" x2="171.40" y2="618.40" stroke="#000" stroke-width="1.3" stroke-linecap="butt"/>
<text x="23.20" y="637.00" font-size="10.75" text-anchor="start" fill="#000" transform="rotate(-90 23.2 637.0)">Plasma insulin concentration (ng/mL)</text>
<line x1="71.35" y1="575.95" x2="71.35" y2="569.41" stroke="#000" stroke-width="1.3" stroke-linecap="butt"/>
<line x1="64.05" y1="569.41" x2="78.65" y2="569.41" stroke="#000" stroke-width="1.4" stroke-linecap="butt"/>
<line x1="100.05" y1="522.99" x2="100.05" y2="501.89" stroke="#000" stroke-width="1.3" stroke-linecap="butt"/>
<line x1="92.75" y1="501.89" x2="107.35" y2="501.89" stroke="#000" stroke-width="1.4" stroke-linecap="butt"/>
<rect x="57.00" y="575.95" width="28.70" height="39.25" fill="#000"/>
<rect x="86.20" y="523.49" width="27.70" height="91.71" fill="#ff0000" stroke="#000" stroke-width="1.0"/>
<line x1="185.55" y1="607.82" x2="185.55" y2="606.76" stroke="#000" stroke-width="1.3" stroke-linecap="butt"/>
<line x1="178.25" y1="606.76" x2="192.85" y2="606.76" stroke="#000" stroke-width="1.4" stroke-linecap="butt"/>
<rect x="142.50" y="609.50" width="28.70" height="5.70" fill="#000"/>
<rect x="171.70" y="608.32" width="27.70" height="6.88" fill="#ff0000" stroke="#000" stroke-width="1.0"/>
<path d="M100.20,498.10L100.20,495.50M100.20,498.10L102.67,497.30M100.20,498.10L101.73,500.20M100.20,498.10L98.67,500.20M100.20,498.10L97.73,497.30" stroke="#000" stroke-width="0.95" stroke-linecap="butt" fill="none"/>
<path d="M186.60,602.50L186.60,599.90M186.60,602.50L189.07,601.70M186.60,602.50L188.13,604.60M186.60,602.50L185.07,604.60M186.60,602.50L184.13,601.70" stroke="#000" stroke-width="0.95" stroke-linecap="butt" fill="none"/>
<text x="84.60" y="633.60" font-size="13.2" text-anchor="middle" fill="#000">Fed</text>
<text x="171.20" y="633.60" font-size="13.2" text-anchor="middle" fill="#000">Fasted</text>
<rect x="165.20" y="494.70" width="13.20" height="9.10" fill="#000"/>
<rect x="165.70" y="508.70" width="12.20" height="8.10" fill="#ff0000" stroke="#000" stroke-width="1.0"/>
<text x="182.20" y="503.60" font-size="12.7" text-anchor="start" fill="#000">ctrl</text>
<text x="182.20" y="517.50" font-size="12.7" text-anchor="start" fill="#000">KO</text>
</g>
</svg>
</body></html>
